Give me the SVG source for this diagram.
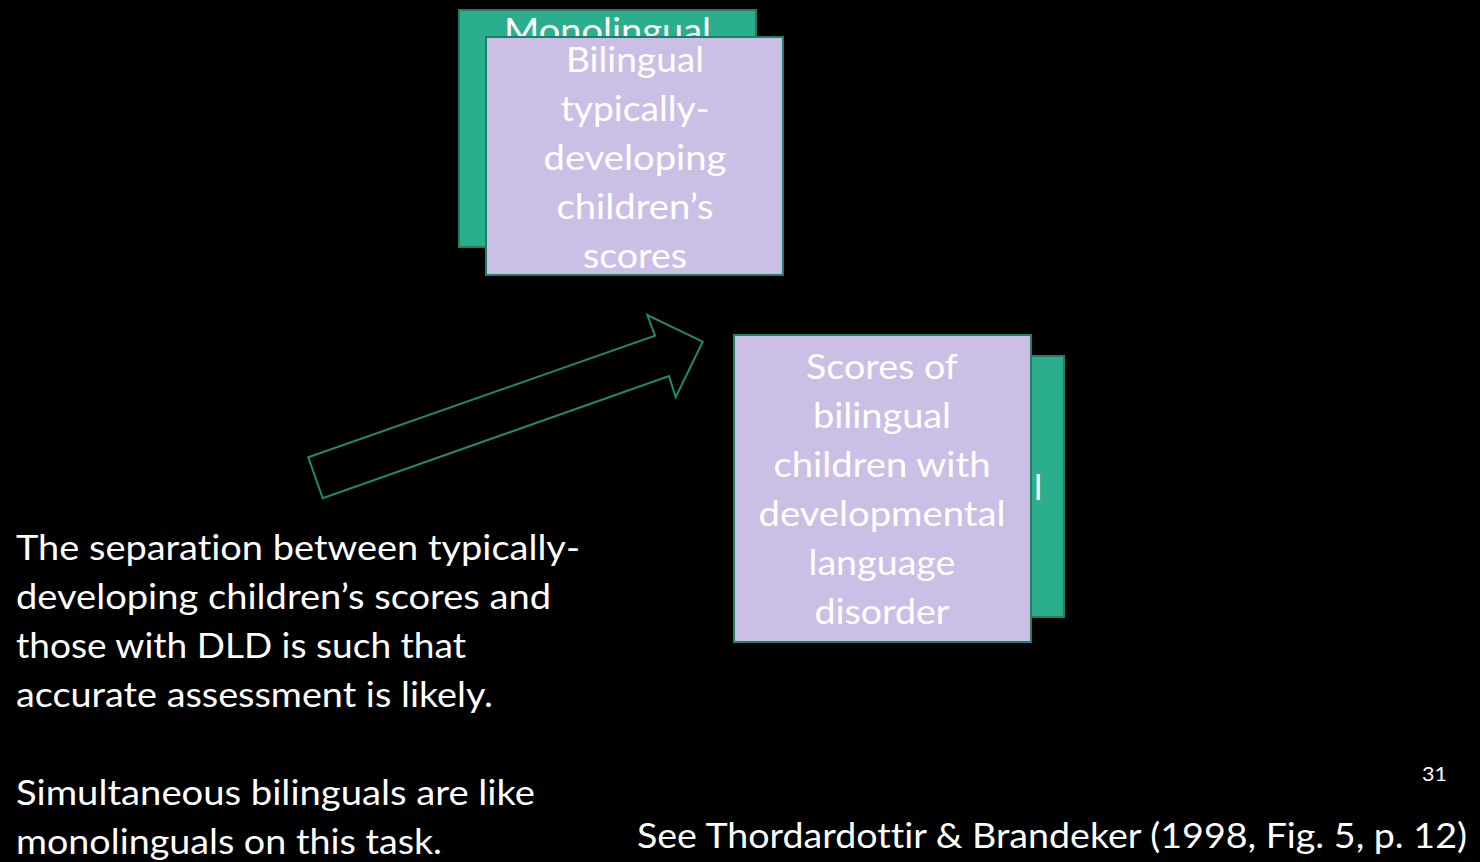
<svg xmlns="http://www.w3.org/2000/svg" width="1480" height="862" viewBox="0 0 1480 862">
<style>
.bg{fill:#000}
.g{fill:#2bae8c;stroke:#1f7f66;stroke-width:2}
.p{fill:#cbbfe6;stroke:#1f7f66;stroke-width:2}
.t{font-family:Lato,"Open Sans",sans-serif;font-size:35px;fill:#fff;font-variant-ligatures:none;font-feature-settings:"liga" 0,"clig" 0}
.c{text-anchor:middle}
.arrow{fill:none;stroke:#1f8a6c;stroke-width:2;stroke-linejoin:miter}
</style>
<rect class="bg" x="0" y="0" width="1480" height="862"/>
<g id="monolingual-td">
<rect class="g" x="459" y="10" width="297" height="237"/>
<text class="t c" x="607.5" y="43" textLength="207" lengthAdjust="spacingAndGlyphs">Monolingual</text>
</g>
<g id="bilingual-td">
<rect class="p" x="486" y="37" width="297" height="238"/>
<text class="t c" x="635" y="72" textLength="138" lengthAdjust="spacingAndGlyphs">Bilingual</text>
<text class="t c" x="635" y="121" textLength="149" lengthAdjust="spacingAndGlyphs">typically-</text>
<text class="t c" x="635" y="170" textLength="183" lengthAdjust="spacingAndGlyphs">developing</text>
<text class="t c" x="635" y="219" textLength="157" lengthAdjust="spacingAndGlyphs">children’s</text>
<text class="t c" x="635" y="268" textLength="104" lengthAdjust="spacingAndGlyphs">scores</text>
</g>
<g id="monolingual-dld">
<rect class="g" x="767" y="356" width="297" height="261"/>
<text class="t" x="1034" y="500">l</text>
</g>
<g id="bilingual-dld">
<rect class="p" x="734" y="335" width="297" height="307"/>
<text class="t c" x="882" y="379" textLength="152" lengthAdjust="spacingAndGlyphs">Scores of</text>
<text class="t c" x="882" y="428" textLength="138" lengthAdjust="spacingAndGlyphs">bilingual</text>
<text class="t c" x="882" y="477" textLength="217" lengthAdjust="spacingAndGlyphs">children with</text>
<text class="t c" x="882" y="526" textLength="247" lengthAdjust="spacingAndGlyphs">developmental</text>
<text class="t c" x="882" y="575" textLength="147" lengthAdjust="spacingAndGlyphs">language</text>
<text class="t c" x="882" y="624" textLength="135" lengthAdjust="spacingAndGlyphs">disorder</text>
</g>
<g id="connectors">
<polygon class="arrow" points="308.3,457.3 655,335.7 647.3,315 702.7,341.7 675.7,397.3 669,376 322.7,498.3"/>
</g>
<g id="notes">
<text class="t" x="16" y="560" textLength="564" lengthAdjust="spacingAndGlyphs">The separation between typically-</text>
<text class="t" x="16" y="609" textLength="535" lengthAdjust="spacingAndGlyphs">developing children’s scores and</text>
<text class="t" x="16" y="658" textLength="450" lengthAdjust="spacingAndGlyphs">those with DLD is such that</text>
<text class="t" x="16" y="707" textLength="477" lengthAdjust="spacingAndGlyphs">accurate assessment is likely.</text>
<text class="t" x="16" y="805" textLength="519" lengthAdjust="spacingAndGlyphs">Simultaneous bilinguals are like</text>
<text class="t" x="16" y="854" textLength="426" lengthAdjust="spacingAndGlyphs">monolinguals on this task.</text>
<text class="t" x="637" y="848" textLength="830" lengthAdjust="spacingAndGlyphs">See Thordardottir &amp; Brandeker (1998, Fig. 5, p. 12)</text>
<text class="t" x="1422" y="781" style="font-size:19px" textLength="25" lengthAdjust="spacingAndGlyphs">31</text>
</g>
</svg>
